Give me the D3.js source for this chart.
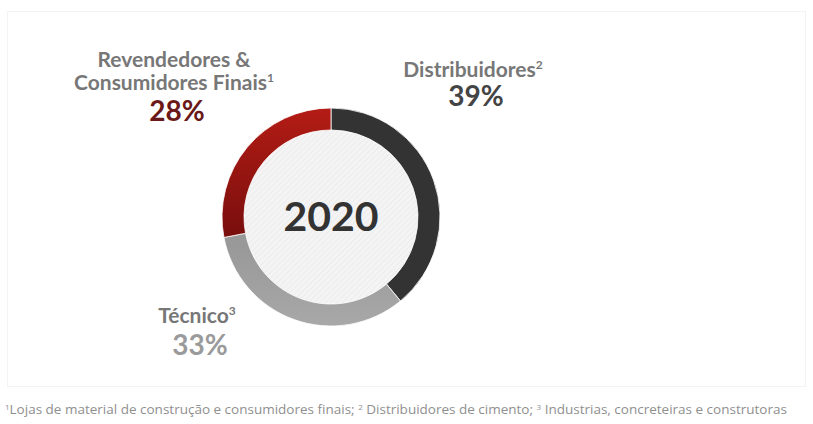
<!DOCTYPE html>
<html>
<head>
<meta charset="utf-8">
<script src="https://cdn.jsdelivr.net/npm/d3@7"></script>
<style>
  html, body { margin: 0; padding: 0; background: #fff; }
  svg { display: block; }
</style>
</head>
<body>
<svg id="chart" width="813" height="424"></svg>
<script>
// Sales mix by channel, 2020
const categories = ["Distribuidores", "Técnico", "Revendedores & Consumidores Finais"];
const shares = [39, 33, 28];
const footnoteMarks = ["2", "3", "1"];
const centerLabel = "2020";
const footnote = [
  {sup: "1", text: "Lojas de material de construção e consumidores finais; "},
  {sup: "2", text: " Distribuidores de cimento; "},
  {sup: "3", text: " Industrias, concreteiras e construtoras"}
];

const svg = d3.select("#chart");
const W = 813, H = 424;
const font = "Lato, 'Open Sans', sans-serif";

// faint frame around the chart area
svg.append("rect")
  .attr("x", 7.5).attr("y", 11.5).attr("width", W - 15).attr("height", 375)
  .attr("fill", "none").attr("stroke", "#f3f3f3");

const defs = svg.append("defs");
const hatch = defs.append("pattern")
  .attr("id", "hatch").attr("patternUnits", "userSpaceOnUse")
  .attr("width", 4).attr("height", 4)
  .attr("patternTransform", "rotate(45)");
hatch.append("rect").attr("width", 4).attr("height", 4).attr("fill", "#f4f4f4");
hatch.append("line").attr("x1", 0).attr("y1", 0).attr("x2", 0).attr("y2", 4)
  .attr("stroke", "#e7e7e7").attr("stroke-width", 1.2);

const cx = 331, cy = 217, rOuter = 109, rInner = 87;

// gradients are in the ring group's local coordinates (centre at 0,0)
const redGrad = defs.append("linearGradient")
  .attr("id", "redGrad").attr("gradientUnits", "userSpaceOnUse")
  .attr("x1", 0).attr("y1", -rOuter).attr("x2", 0).attr("y2", 50);
redGrad.append("stop").attr("offset", "0%").attr("stop-color", "#b41c15");
redGrad.append("stop").attr("offset", "100%").attr("stop-color", "#6a0b0b");

const grayGrad = defs.append("linearGradient")
  .attr("id", "grayGrad").attr("gradientUnits", "userSpaceOnUse")
  .attr("x1", 0).attr("y1", 30).attr("x2", 0).attr("y2", rOuter);
grayGrad.append("stop").attr("offset", "0%").attr("stop-color", "#999999");
grayGrad.append("stop").attr("offset", "100%").attr("stop-color", "#a8a8a8");

const colors = d3.scaleOrdinal().domain(categories)
  .range(["#333333", "url(#grayGrad)", "url(#redGrad)"]);

const g = svg.append("g").attr("transform", `translate(${cx},${cy})`);

// hatched centre disc
g.append("circle").attr("r", rInner + 1)
  .attr("fill", "url(#hatch)").attr("stroke", "#e4e4e4").attr("stroke-width", 1);

const pie = d3.pie().sort(null).value(d => d.v);
const arc = d3.arc().innerRadius(rInner).outerRadius(rOuter);
const data = categories.map((c, i) => ({c, v: shares[i]}));

g.selectAll("path.seg").data(pie(data)).join("path")
  .attr("class", "seg")
  .attr("d", arc)
  .attr("fill", d => colors(d.data.c))
  .attr("stroke", "#fff").attr("stroke-width", 0.8);

g.append("text").text(centerLabel)
  .attr("text-anchor", "middle").attr("y", 14)
  .attr("font-family", font).attr("font-weight", 700)
  .attr("font-size", 41).attr("fill", "#333");

// segment labels
const labels = [
  {lines: ["Distribuidores"], x: 473, y: [77], pctY: 106, pctColor: "#444", nameColor: "#777"},
  {lines: ["Técnico"], x: 197, y: [323], pctY: 355, pctColor: "#9a9a9a", nameColor: "#777"},
  {lines: ["Revendedores &", "Consumidores Finais"], x: 174, y: [67, 90], pctY: 121, pctColor: "#6a1818", nameColor: "#777"}
];

labels.forEach((L, i) => {
  L.lines.forEach((ln, j) => {
    const t = svg.append("text")
      .attr("x", L.x).attr("y", L.y[j])
      .attr("text-anchor", "middle")
      .attr("font-family", font).attr("font-weight", 700)
      .attr("font-size", 21).attr("fill", L.nameColor);
    t.append("tspan").text(ln);
    if (j === L.lines.length - 1) {
      t.append("tspan").text(footnoteMarks[i])
        .attr("font-size", 12).attr("dy", -8);
    }
  });
  svg.append("text")
    .attr("x", L.x + 3).attr("y", L.pctY)
    .attr("text-anchor", "middle")
    .attr("font-family", font).attr("font-weight", 700)
    .attr("font-size", 28).attr("fill", L.pctColor)
    .text(shares[i] + "%");
});

// footnote
const fn = svg.append("text")
  .attr("x", 5).attr("y", 414)
  .attr("font-family", "'Open Sans', sans-serif").attr("font-size", 13.5).attr("fill", "#8f8f8f");
footnote.forEach(f => {
  fn.append("tspan").text(f.sup).attr("font-size", 8).attr("dy", -4.5);
  fn.append("tspan").text(f.text).attr("font-size", 13.5).attr("dy", 4.5);
});
</script>
</body>
</html>
